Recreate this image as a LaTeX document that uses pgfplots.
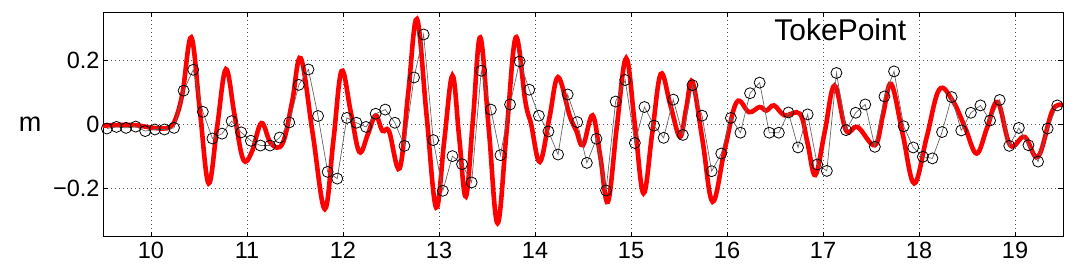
\documentclass[border=0pt]{standalone}
\usepackage{pgfplots}
\pgfplotsset{compat=1.18}
\usepackage{fontspec}
\setmainfont{Liberation Sans}
\begin{document}
\begin{tikzpicture}
\path[use as bounding box] (-103pt,-30.3pt) rectangle (975pt,236.7pt);
\begin{axis}[
  at={(0pt,0pt)}, anchor=south west,
  scale only axis, width=960pt, height=224.7pt,
  xmin=9.5, xmax=19.5, ymin=-0.35, ymax=0.35,
  xtick={10,11,12,13,14,15,16,17,18,19},
  xticklabels={10,11,12,13,14,15,16,17,18,19},
  ytick={-0.2,0,0.2},
  yticklabels={−0.2,0,0.2},
  tick align=inside, major tick length=5pt,
  grid=major, grid style={dash pattern=on 0.8pt off 3.2pt, black!70, line width=0.7pt},
  axis line style={line width=0.8pt},
  tick style={line width=0.8pt, black},
  ticklabel style={font=\fontsize{23.5}{24}\selectfont},
  xticklabel style={yshift=-2pt},
  ylabel={m},
  ylabel style={rotate=-90, at={(axis description cs:-0.076,0.5)}, anchor=center, font=\fontsize{27}{27}\selectfont},
  clip=true,
]
\addplot[red, line width=4.6pt, smooth, tension=0.62] coordinates {
(9.5,-0.004) (9.7,-0.002) (9.85,-0.003) (10.0,-0.010) (10.12,-0.013) (10.2,-0.008)
(10.26,0.02) (10.33,0.10) (10.42,0.271) (10.51,0.04) (10.60,-0.184) (10.69,-0.005)
(10.78,0.172) (10.87,0.03) (10.96,-0.109) (11.05,-0.086) (11.15,0.004) (11.25,-0.06)
(11.37,-0.06) (11.47,0.07) (11.56,0.206) (11.685,-0.03) (11.81,-0.264) (11.90,-0.05)
(11.985,0.166) (12.08,0.04) (12.17,-0.086) (12.26,-0.03) (12.34,0.028) (12.41,-0.02)
(12.48,-0.022) (12.59,-0.137) (12.68,0.10) (12.77,0.328) (12.87,0.03) (12.97,-0.259)
(13.055,-0.05) (13.14,0.152) (13.21,-0.04) (13.28,-0.225) (13.355,0.02) (13.43,0.271)
(13.52,-0.02) (13.61,-0.308) (13.705,-0.02) (13.80,0.271) (13.90,0.07) (13.96,0.0)
(14.05,-0.117) (14.15,0.02) (14.24,0.147) (14.36,0.028) (14.43,-0.02) (14.50,-0.065)
(14.60,0.028) (14.68,-0.10) (14.76,-0.241) (14.855,0.0) (14.95,0.206) (15.04,0.0)
(15.13,-0.215) (15.22,-0.03) (15.31,0.157) (15.41,0.06) (15.51,-0.039) (15.575,0.05)
(15.64,0.133) (15.745,-0.05) (15.85,-0.241) (15.975,-0.08) (16.10,0.069) (16.23,0.038)
(16.34,0.054) (16.41,0.043) (16.49,0.059) (16.60,0.028) (16.76,0.033) (16.84,-0.06)
(16.92,-0.158) (17.02,-0.02) (17.12,0.121) (17.24,-0.019) (17.36,-0.008) (17.54,-0.065)
(17.625,0.03) (17.71,0.126) (17.83,-0.03) (17.95,-0.184) (18.08,-0.04) (18.21,0.108)
(18.35,0.074) (18.48,-0.01) (18.60,-0.091) (18.71,-0.01) (18.82,0.069) (18.95,-0.065)
(19.10,-0.039) (19.24,-0.101) (19.39,0.043) (19.5,0.059)
};
\addplot[color=black!60, line width=0.7pt, mark=o, mark size=5.5pt, mark options={black, line width=0.8pt, solid, fill=none}] coordinates {
(9.54,-0.013) (9.64,-0.008) (9.74,-0.011) (9.84,-0.007) (9.94,-0.021) (10.04,-0.016)
(10.14,-0.016) (10.24,-0.011) (10.34,0.105) (10.44,0.170) (10.54,0.039) (10.64,-0.044)
(10.74,-0.029) (10.84,0.010) (10.94,-0.025) (11.04,-0.051) (11.14,-0.066) (11.24,-0.066)
(11.34,-0.041) (11.44,0.006) (11.54,0.123) (11.64,0.171) (11.74,0.026) (11.84,-0.148)
(11.94,-0.169) (12.04,0.020) (12.14,0.005) (12.24,-0.008) (12.34,0.033) (12.44,0.046)
(12.54,0.005) (12.64,-0.067) (12.74,0.146) (12.84,0.280) (12.94,-0.049) (13.04,-0.207)
(13.14,-0.099) (13.24,-0.124) (13.34,-0.181) (13.44,0.167) (13.54,0.046) (13.64,-0.096)
(13.74,0.062) (13.84,0.196) (13.94,0.108) (14.04,0.027) (14.14,-0.022) (14.24,-0.094)
(14.34,0.093) (14.44,0.007) (14.54,-0.120) (14.64,-0.045) (14.74,-0.206) (14.84,0.071)
(14.94,0.138) (15.04,-0.058) (15.14,0.054) (15.24,-0.004) (15.34,-0.042) (15.44,0.077)
(15.54,-0.033) (15.64,0.122) (15.74,0.027) (15.84,-0.146) (15.94,-0.091) (16.04,0.020)
(16.14,-0.026) (16.24,0.097) (16.34,0.130) (16.44,-0.026) (16.54,-0.026) (16.64,0.037)
(16.74,-0.072) (16.84,0.031) (16.94,-0.125) (17.04,-0.145) (17.14,0.160) (17.24,-0.018)
(17.34,0.036) (17.44,0.062) (17.54,-0.070) (17.64,0.087) (17.74,0.165) (17.84,-0.006)
(17.94,-0.072) (18.04,-0.101) (18.14,-0.106) (18.24,-0.024) (18.34,0.085) (18.44,-0.019)
(18.54,0.036) (18.64,0.059) (18.74,0.012) (18.84,0.076) (18.94,-0.067) (19.04,-0.011)
(19.14,-0.065) (19.24,-0.116) (19.34,-0.013) (19.44,0.059)
};
\node[anchor=base, font=\fontsize{30}{30}\selectfont] at (axis cs:17.18,0.262) {TokePoint};
\end{axis}
\end{tikzpicture}
\end{document}
